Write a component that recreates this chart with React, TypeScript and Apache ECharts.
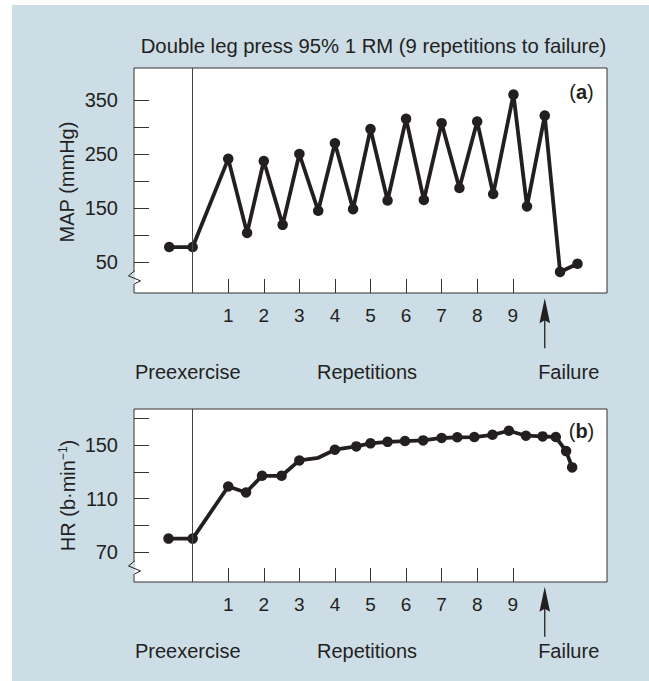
import React, { useEffect, useRef } from 'react';
import * as echarts from 'echarts';

// ---- Data ----
const MAP_X = [-0.66, 0, 1, 1.53, 2, 2.53, 3, 3.53, 4, 4.51, 5, 5.48, 6, 6.5, 7, 7.5, 8, 8.45, 9.02, 9.4, 9.9, 10.33, 10.82];
const MAP_Y = [78, 78, 241, 104, 237, 119, 250, 145, 270, 148, 296, 164, 315, 165, 307, 187, 310, 176, 360, 153, 321, 32, 47];

const HR_X = [-0.68, 0, 1, 1.5, 1.95, 2.5, 3, 3.53, 4, 4.6, 5, 5.48, 5.97, 6.48, 7.0, 7.44, 7.92, 8.43, 8.89, 9.37, 9.84, 10.21, 10.5, 10.67];
const HR_Y = [80, 80, 119, 114.5, 127, 127, 138.5, 140.5, 146.5, 149, 151.3, 152.4, 153, 153.5, 155.3, 155.8, 156, 157.7, 160.7, 157, 156.5, 156, 145.5, 133.3];
const HR_NO_MARKER = [7];

const REP_TICKS = [1, 2, 3, 4, 5, 6, 7, 8, 9];
const MAP_TICKS = [50, 100, 150, 200, 250, 300, 350];
const MAP_LABELS = [50, 150, 250, 350];
const HR_TICKS = [70, 90, 110, 130, 150, 170];
const HR_LABELS = [70, 110, 150];

const TITLE = 'Double leg press 95% 1 RM (9 repetitions to failure)';
const MAP_NAME = 'MAP (mmHg)';
const PRE = 'Preexercise';
const REPS = 'Repetitions';
const FAIL = 'Failure';
const FAILURE_REP = 9.9;
const BREAK_MAP = 21;
const BREAK_HR = 58;

// ---- Style ----
const INK = '#231f20';
const BLUE = '#cddde6';
const FONT = '"Liberation Sans", Arial, Helvetica, sans-serif';

const G1 = { left: 134, top: 68, width: 473, height: 225 };
const G2 = { left: 134, top: 409, width: 473, height: 173 };

function xAxisCfg(gridIndex: number) {
  return {
    type: 'value',
    gridIndex,
    min: -1.65,
    max: 11.65,
    axisLine: { show: false, onZero: false },
    splitLine: { show: false },
    axisTick: {
      show: true,
      customValues: REP_TICKS,
      inside: true,
      length: 14,
      lineStyle: { color: '#333', width: 1 },
    },
    axisLabel: {
      show: true,
      customValues: REP_TICKS,
      margin: 13,
      fontSize: 19,
      color: INK,
      fontFamily: FONT,
    },
  };
}

function yAxisCfg(gridIndex: number, min: number, max: number, ticks: number[], labels: number[]) {
  return {
    type: 'value',
    gridIndex,
    min,
    max,
    axisLine: { show: false, onZero: false },
    splitLine: { show: false },
    axisTick: {
      show: true,
      customValues: ticks,
      inside: true,
      length: 15,
      lineStyle: { color: '#333', width: 1 },
    },
    axisLabel: {
      show: true,
      customValues: labels,
      margin: 16,
      fontSize: 20,
      color: INK,
      fontFamily: FONT,
    },
  };
}

const dividerMark = {
  silent: true,
  symbol: ['none', 'none'],
  label: { show: false },
  lineStyle: { color: '#444', width: 1, type: 'solid' },
  data: [{ xAxis: 0 }],
};

export default function App() {
  const ref = useRef<HTMLDivElement>(null);

  useEffect(() => {
    if (!ref.current) return;
    const chart = echarts.init(ref.current, undefined, { renderer: 'svg' });

    const mapData = MAP_X.map((x, i) => [x, MAP_Y[i]]);
    const hrData = HR_X.map((x, i) =>
      HR_NO_MARKER.includes(i) ? { value: [x, HR_Y[i]], symbol: 'none' } : [x, HR_Y[i]]
    );

    chart.setOption({
      animation: false,
      backgroundColor: 'transparent',
      grid: [
        { ...G1, show: true, backgroundColor: '#fff', borderColor: '#333', borderWidth: 1 },
        { ...G2, show: true, backgroundColor: '#fff', borderColor: '#333', borderWidth: 1 },
      ],
      xAxis: [xAxisCfg(0), xAxisCfg(1)],
      yAxis: [
        yAxisCfg(0, -7, 409, MAP_TICKS, MAP_LABELS),
        yAxisCfg(1, 47.5, 177, HR_TICKS, HR_LABELS),
      ],
      series: [
        {
          type: 'line',
          xAxisIndex: 0,
          yAxisIndex: 0,
          data: mapData,
          symbol: 'circle',
          symbolSize: 10.5,
          itemStyle: { color: INK },
          lineStyle: { color: INK, width: 3.8 },
          markLine: dividerMark,
          z: 3,
        },
        {
          type: 'line',
          xAxisIndex: 1,
          yAxisIndex: 1,
          data: hrData,
          symbol: 'circle',
          symbolSize: 10.5,
          itemStyle: { color: INK },
          lineStyle: { color: INK, width: 3.8 },
          markLine: dividerMark,
          z: 3,
        },
      ],
    });

    const fx = chart.convertToPixel({ xAxisIndex: 0 }, FAILURE_REP) as number;
    const yb1 = chart.convertToPixel({ yAxisIndex: 0 }, BREAK_MAP) as number;
    const yb2 = chart.convertToPixel({ yAxisIndex: 1 }, BREAK_HR) as number;
    const ax = G1.left + 0.5;

    const textStyle = (text: string, x: number, y: number, align = 'center', extra: any = {}) => ({
      type: 'text',
      x,
      y,
      style: {
        text,
        fill: INK,
        fontSize: 20,
        fontFamily: FONT,
        align,
        verticalAlign: 'middle',
        ...extra,
      },
    });

    const arrow = (tip: number) => [
      {
        type: 'line',
        shape: { x1: fx, y1: tip + 20, x2: fx, y2: tip + 50 },
        style: { stroke: INK, lineWidth: 1.3 },
      },
      {
        type: 'polygon',
        shape: { points: [[fx, tip], [fx - 5.3, tip + 25], [fx, tip + 22], [fx + 5.3, tip + 25]] },
        style: { fill: INK },
      },
    ];

    const brk = (yb: number) => [
      { type: 'rect', shape: { x: ax - 2, y: yb - 6, width: 2, height: 12 }, style: { fill: BLUE }, z: 50 },
      { type: 'rect', shape: { x: ax, y: yb - 6, width: 2, height: 12 }, style: { fill: '#fff' }, z: 50 },
      {
        type: 'polyline',
        shape: { points: [[ax, yb - 7], [ax - 6, yb - 2], [ax + 6, yb + 3], [ax, yb + 6]] },
        style: { stroke: INK, lineWidth: 1, fill: 'none' },
        z: 51,
      },
    ];

    chart.setOption({
      graphic: [
        textStyle(TITLE, 373.5, 46, 'center', { fontSize: 20.3 }),
        textStyle('({b|a})', 581.5, 91.5, 'center', { rich: { b: { fontWeight: 'bold', fontSize: 20, fontFamily: FONT, fill: INK } } }),
        textStyle('({b|b})', 581.5, 430.5, 'center', { rich: { b: { fontWeight: 'bold', fontSize: 20, fontFamily: FONT, fill: INK } } }),
        { ...textStyle(MAP_NAME, 67, 182), rotation: Math.PI / 2 },
        {
          ...textStyle('HR (b·min{sup|−1})', 68, 495.5, 'center', {
            rich: { sup: { fontSize: 12, fontFamily: FONT, fill: INK, verticalAlign: 'top', padding: [0, 0, 10, 0] } },
          }),
          rotation: Math.PI / 2,
        },
        textStyle(PRE, 135, 371.5, 'left'),
        textStyle(REPS, 367, 371.5),
        textStyle(FAIL, 568.7, 371.5),
        textStyle(PRE, 135, 650.5, 'left'),
        textStyle(REPS, 367, 650.5),
        textStyle(FAIL, 568.7, 650.5),
        ...arrow(298.3),
        ...arrow(586.7),
        ...brk(yb1),
        ...brk(yb2),
      ],
    });

    return () => chart.dispose();
  }, []);

  return (
    <div style={{ position: 'fixed', left: 0, top: 0, width: 649, height: 681, background: '#fff' }}>
      <div style={{ position: 'absolute', left: 12, top: 5, width: 637, height: 676, background: BLUE }} />
      <div ref={ref} style={{ position: 'absolute', left: 0, top: 0, width: 649, height: 681 }} />
    </div>
  );
}
